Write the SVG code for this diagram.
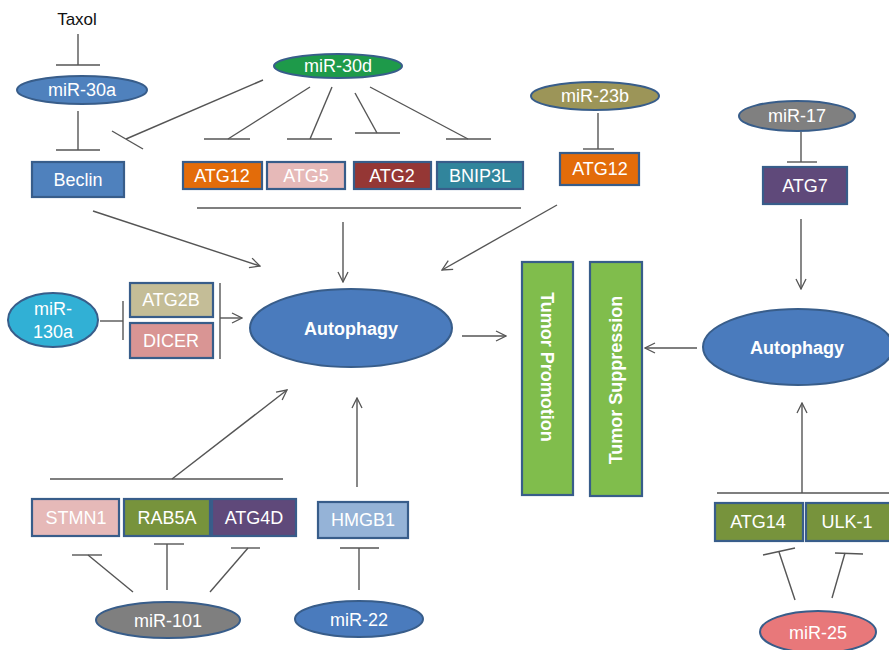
<svg xmlns="http://www.w3.org/2000/svg" width="889" height="650" viewBox="0 0 889 650">
  <defs>
    <marker id="arrow" viewBox="0 0 12 12" refX="11" refY="6" markerWidth="12" markerHeight="12" markerUnits="userSpaceOnUse" orient="auto">
      <path d="M1,1 L11,6 L1,11" fill="none" stroke="#555" stroke-width="1.3"/>
    </marker>
  </defs>
  <style>
    .lbl { font-family: "Liberation Sans", Arial, sans-serif; font-size: 18px; fill: #ffffff; text-anchor: middle; dominant-baseline: central; }
    .bold { font-weight: bold; }
    .blk { fill: #111111; font-size: 17px; }
    .box { stroke: #385d8a; stroke-width: 2.2; }
    .ell { stroke: #385d8a; stroke-width: 2; }
    .conn line, .conn path { stroke: #555555; stroke-width: 1.4; fill: none; }
  </style>
  <rect width="889" height="650" fill="#ffffff"/>

  <!-- connectors -->
  <g id="connectors" class="conn">
    <!-- Taxol -| miR-30a -| Beclin -->
    <line x1="78" y1="34" x2="78" y2="65"/>
    <line x1="56" y1="65" x2="100" y2="65"/>
    <line x1="78" y1="111" x2="78" y2="150"/>
    <line x1="56" y1="150" x2="100" y2="150"/>
    <!-- miR-30d inhibitions -->
    <line x1="263" y1="80" x2="126" y2="139"/>
    <line x1="112" y1="131" x2="143" y2="149"/>
    <line x1="310" y1="87" x2="228" y2="139"/>
    <line x1="204" y1="139" x2="250" y2="139"/>
    <line x1="332" y1="87" x2="310" y2="139"/>
    <line x1="287" y1="139" x2="332" y2="139"/>
    <line x1="355" y1="93" x2="377" y2="133"/>
    <line x1="355" y1="133" x2="400" y2="133"/>
    <line x1="370" y1="87" x2="468" y2="139"/>
    <line x1="446" y1="139" x2="491" y2="139"/>
    <line x1="197" y1="208" x2="521" y2="208"/>
    <!-- miR-23b -| ATG12 -->
    <line x1="598" y1="113" x2="598" y2="149"/>
    <line x1="583" y1="149" x2="614" y2="149"/>
    <!-- miR-17 -| ATG7 -->
    <line x1="801" y1="132" x2="801" y2="162"/>
    <line x1="787" y1="162" x2="817" y2="162"/>
    <!-- activations toward left Autophagy -->
    <line x1="93" y1="211" x2="260" y2="266" marker-end="url(#arrow)"/>
    <line x1="343" y1="222" x2="343" y2="282" marker-end="url(#arrow)"/>
    <line x1="557" y1="205" x2="442" y2="270" marker-end="url(#arrow)"/>
    <!-- miR-130a -| ATG2B/DICER -> Autophagy -->
    <line x1="100" y1="321" x2="123" y2="321"/>
    <line x1="123" y1="301" x2="123" y2="340"/>
    <line x1="220" y1="283" x2="220" y2="359"/>
    <line x1="220" y1="318" x2="242" y2="318" marker-end="url(#arrow)"/>
    <!-- Autophagy -> Tumor Promotion -->
    <line x1="462" y1="336" x2="506" y2="336" marker-end="url(#arrow)"/>
    <!-- right Autophagy -> Tumor Suppression -->
    <line x1="697" y1="348" x2="645" y2="348" marker-end="url(#arrow)"/>
    <!-- ATG7 -> right Autophagy -->
    <line x1="801" y1="219" x2="801" y2="289" marker-end="url(#arrow)"/>
    <!-- ATG14/ULK-1 -> right Autophagy -->
    <line x1="717" y1="493" x2="889" y2="493"/>
    <line x1="802" y1="493" x2="802" y2="403" marker-end="url(#arrow)"/>
    <!-- miR-25 -| ATG14, ULK-1 -->
    <line x1="795" y1="600" x2="779" y2="552"/>
    <line x1="763" y1="555" x2="795" y2="548"/>
    <line x1="832" y1="598" x2="845" y2="553"/>
    <line x1="835" y1="553" x2="863" y2="554"/>
    <!-- STMN1/RAB5A/ATG4D -> Autophagy -->
    <line x1="50" y1="479" x2="283" y2="479"/>
    <line x1="172" y1="479" x2="287" y2="390" marker-end="url(#arrow)"/>
    <!-- HMGB1 -> Autophagy -->
    <line x1="357" y1="487" x2="357" y2="398" marker-end="url(#arrow)"/>
    <!-- miR-101 inhibitions -->
    <line x1="133" y1="592" x2="88" y2="555"/>
    <line x1="72" y1="555" x2="102" y2="555"/>
    <line x1="167" y1="590" x2="167" y2="544"/>
    <line x1="154" y1="544" x2="184" y2="544"/>
    <line x1="210" y1="592" x2="248" y2="548"/>
    <line x1="231" y1="548" x2="260" y2="548"/>
    <!-- miR-22 -| HMGB1 -->
    <line x1="359" y1="590" x2="359" y2="548"/>
    <line x1="340" y1="548" x2="379" y2="548"/>
  </g>

  <!-- nodes -->
  <g id="taxol"><text class="lbl blk" x="77" y="19">Taxol</text></g>

  <g id="mir-30a">
    <ellipse class="ell" cx="82" cy="90" rx="65" ry="14" fill="#4f81bd"/>
    <text class="lbl" x="82" y="90">miR-30a</text>
  </g>
  <g id="beclin">
    <rect class="box" x="32" y="162" width="92" height="35" fill="#4f81bd"/>
    <text class="lbl" x="78" y="180">Beclin</text>
  </g>

  <g id="mir-30d">
    <ellipse class="ell" cx="338" cy="66" rx="64" ry="12" fill="#1e9a4a"/>
    <text class="lbl" x="338" y="66">miR-30d</text>
  </g>
  <g id="atg12-a">
    <rect class="box" x="183" y="162" width="79" height="27" fill="#e36c0a"/>
    <text class="lbl" x="222" y="176">ATG12</text>
  </g>
  <g id="atg5">
    <rect class="box" x="267" y="162" width="78" height="27" fill="#e6b9b8"/>
    <text class="lbl" x="306" y="176">ATG5</text>
  </g>
  <g id="atg2">
    <rect class="box" x="354" y="162" width="77" height="27" fill="#953735"/>
    <text class="lbl" x="392" y="176">ATG2</text>
  </g>
  <g id="bnip3l">
    <rect class="box" x="437" y="162" width="86" height="27" fill="#31859c"/>
    <text class="lbl" x="480" y="176">BNIP3L</text>
  </g>

  <g id="mir-23b">
    <ellipse class="ell" cx="595" cy="96" rx="64" ry="14" fill="#9c9558"/>
    <text class="lbl" x="595" y="96">miR-23b</text>
  </g>
  <g id="atg12-b">
    <rect class="box" x="560" y="153" width="79" height="32" fill="#e36c0a"/>
    <text class="lbl" x="600" y="169">ATG12</text>
  </g>

  <g id="mir-17">
    <ellipse class="ell" cx="797" cy="116" rx="58" ry="15" fill="#808080"/>
    <text class="lbl" x="797" y="116">miR-17</text>
  </g>
  <g id="atg7">
    <rect class="box" x="763" y="167" width="84" height="37" fill="#5f497a"/>
    <text class="lbl" x="805" y="186">ATG7</text>
  </g>

  <g id="mir-130a">
    <ellipse class="ell" cx="53" cy="320" rx="45" ry="27" fill="#31b0d5"/>
    <text class="lbl" x="53" y="309">miR-</text>
    <text class="lbl" x="53" y="332">130a</text>
  </g>
  <g id="atg2b">
    <rect class="box" x="130" y="283" width="83" height="34" fill="#c4bd97"/>
    <text class="lbl" x="171" y="300">ATG2B</text>
  </g>
  <g id="dicer">
    <rect class="box" x="130" y="323" width="83" height="35" fill="#d99594"/>
    <text class="lbl" x="171" y="341">DICER</text>
  </g>

  <g id="autophagy-left">
    <ellipse class="ell" cx="351" cy="328" rx="101" ry="39" fill="#4a7bbd"/>
    <text class="lbl bold" x="351" y="329">Autophagy</text>
  </g>

  <g id="tumor-promotion">
    <rect class="box" x="522" y="262" width="51" height="233" fill="#80bd4c"/>
    <text class="lbl bold" transform="translate(547,367) rotate(90)">Tumor Promotion</text>
  </g>
  <g id="tumor-suppression">
    <rect class="box" x="590" y="262" width="52" height="234" fill="#80bd4c"/>
    <text class="lbl bold" transform="translate(616,380) rotate(-90)">Tumor Suppression</text>
  </g>

  <g id="autophagy-right">
    <ellipse class="ell" cx="798" cy="347" rx="95" ry="38" fill="#4a7bbd"/>
    <text class="lbl bold" x="797" y="348">Autophagy</text>
  </g>

  <g id="atg14">
    <rect class="box" x="715" y="503" width="88" height="38" fill="#77933c"/>
    <text class="lbl" x="758" y="522">ATG14</text>
  </g>
  <g id="ulk-1">
    <rect class="box" x="806" y="503" width="90" height="38" fill="#77933c"/>
    <text class="lbl" x="847" y="522">ULK-1</text>
  </g>
  <g id="mir-25">
    <ellipse class="ell" cx="818" cy="632" rx="58" ry="21" fill="#e8787a"/>
    <text class="lbl" x="818" y="633">miR-25</text>
  </g>

  <g id="stmn1">
    <rect class="box" x="32" y="499" width="87" height="37" fill="#e6b9b8"/>
    <text class="lbl" x="76" y="518">STMN1</text>
  </g>
  <g id="rab5a">
    <rect class="box" x="124" y="499" width="86" height="37" fill="#77933c"/>
    <text class="lbl" x="167" y="518">RAB5A</text>
  </g>
  <g id="atg4d">
    <rect class="box" x="212" y="499" width="84" height="37" fill="#5f497a"/>
    <text class="lbl" x="254" y="518">ATG4D</text>
  </g>
  <g id="hmgb1">
    <rect class="box" x="318" y="502" width="90" height="36" fill="#95b3d7"/>
    <text class="lbl" x="363" y="520">HMGB1</text>
  </g>

  <g id="mir-101">
    <ellipse class="ell" cx="168" cy="620" rx="72" ry="18" fill="#7f7f7f"/>
    <text class="lbl" x="168" y="621">miR-101</text>
  </g>
  <g id="mir-22">
    <ellipse class="ell" cx="359" cy="619" rx="64" ry="18" fill="#4a7bbd"/>
    <text class="lbl" x="359" y="620">miR-22</text>
  </g>
</svg>
